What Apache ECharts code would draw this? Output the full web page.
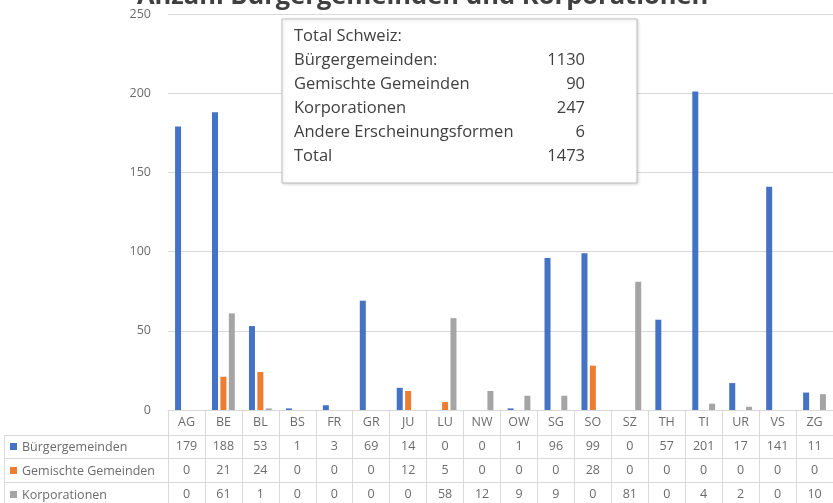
<!DOCTYPE html>
<html><head><meta charset="utf-8">
<script src="https://cdn.jsdelivr.net/npm/echarts@6/dist/echarts.min.js"></script>
<style>html,body{margin:0;padding:0;background:#fff}#c{width:833px;height:503px}</style>
</head><body><div id="c"></div>
<script>
const categories = ['AG','BE','BL','BS','FR','GR','JU','LU','NW','OW','SG','SO','SZ','TH','TI','UR','VS','ZG'];
const seriesNames = ['Bürgergemeinden','Gemischte Gemeinden','Korporationen'];
const buerger = [179,188,53,1,3,69,14,0,0,1,96,99,0,57,201,17,141,11];
const gemischte = [0,21,24,0,0,0,12,5,0,0,0,28,0,0,0,0,0,0];
const korporationen = [0,61,1,0,0,0,0,58,12,9,9,0,81,0,4,2,0,10];
const yTicks = [0,50,100,150,200,250];
const totalLabels = ['Bürgergemeinden:','Gemischte Gemeinden','Korporationen','Andere Erscheinungsformen','Total'];
const totalValues = ['1130','90','247','6','1473'];
const titleText = 'Anzahl Bürgergemeinden und Korporationen';

const colors = ['#4472C4','#ED7D31','#A5A5A5'];
const values = [buerger, gemischte, korporationen];
const txt = '#6b6b6b';
const lineC = '#D9D9D9';
const ff = '"Open Sans"';

const chart = echarts.init(document.getElementById('c'), null, {renderer:'canvas'});

const boxFont = '16.5px ' + ff;
const boxTexts = [];
boxTexts.push({type:'text', left:294, top:28, style:{text:'Total Schweiz:', font:boxFont, fill:'#404040'}});
totalLabels.forEach((l,i)=>{
  boxTexts.push({type:'text', left:294, top:52+i*24, style:{text:l, font:boxFont, fill:'#404040'}});
  boxTexts.push({type:'text', right:833-585, top:52+i*24, style:{text:totalValues[i], font:boxFont, fill:'#404040', align:'right'}});
});

const legendEls = [];
seriesNames.forEach((n,k)=>{
  legendEls.push({type:'rect', shape:{x:10, y:443+k*24, width:7, height:7}, style:{fill:colors[k]}});
  legendEls.push({type:'text', x:22, y:447+k*24, style:{text:n, font:'12.5px '+ff, fill:txt, verticalAlign:'middle'}});
});

chart.setOption({
  animation:false,
  color: colors,
  title:{text:titleText, left:132, top:-21, textStyle:{fontSize:25.5, fontWeight:'bold', color:'#404040', fontFamily:ff}},
  grid:{left:168, right:0, top:14, bottom:93},
  xAxis:{type:'category', data:categories,
    axisLine:{lineStyle:{color:lineC}},
    axisTick:{show:true, length:100, interval:0, lineStyle:{color:lineC}},
    axisLabel:{interval:0, margin:0, color:txt, fontSize:12.5, fontFamily:ff,
      formatter:(v)=>{
        const i = categories.indexOf(v);
        return '{h|'+v+'}\n{v|'+buerger[i]+'}\n{v|'+gemischte[i]+'}\n{v|'+korporationen[i]+'}';
      },
      rich:{h:{lineHeight:24, fontSize:12.5, color:txt, fontFamily:ff}, v:{lineHeight:24, fontSize:12.5, color:txt, fontFamily:ff}}
    }},
  yAxis:{type:'value', min:yTicks[0], max:yTicks[yTicks.length-1], interval:50,
    axisLabel:{color:txt, fontSize:12.5, margin:17, fontFamily:ff},
    splitLine:{lineStyle:{color:lineC}}, axisLine:{show:false}, axisTick:{show:false}},
  series: seriesNames.map((n,k)=>({name:n, type:'bar', data:values[k], barWidth:6, barGap:'40%', itemStyle:{color:colors[k]}})),
  graphic:[
    {type:'line', shape:{x1:4,y1:435.5,x2:833,y2:435.5}, style:{stroke:lineC}},
    {type:'line', shape:{x1:4,y1:458.5,x2:833,y2:458.5}, style:{stroke:lineC}},
    {type:'line', shape:{x1:4,y1:482.5,x2:833,y2:482.5}, style:{stroke:lineC}},
    {type:'line', shape:{x1:4.5,y1:435,x2:4.5,y2:503}, style:{stroke:lineC}},
    ...legendEls,
    {type:'rect', shape:{x:282,y:19,width:355,height:164}, style:{fill:'#fff', stroke:'#BFBFBF', shadowBlur:3, shadowColor:'rgba(0,0,0,0.15)', shadowOffsetX:1, shadowOffsetY:1}, z:10},
    ...boxTexts.map(t=>Object.assign(t,{z:11}))
  ]
});
</script></body></html>
